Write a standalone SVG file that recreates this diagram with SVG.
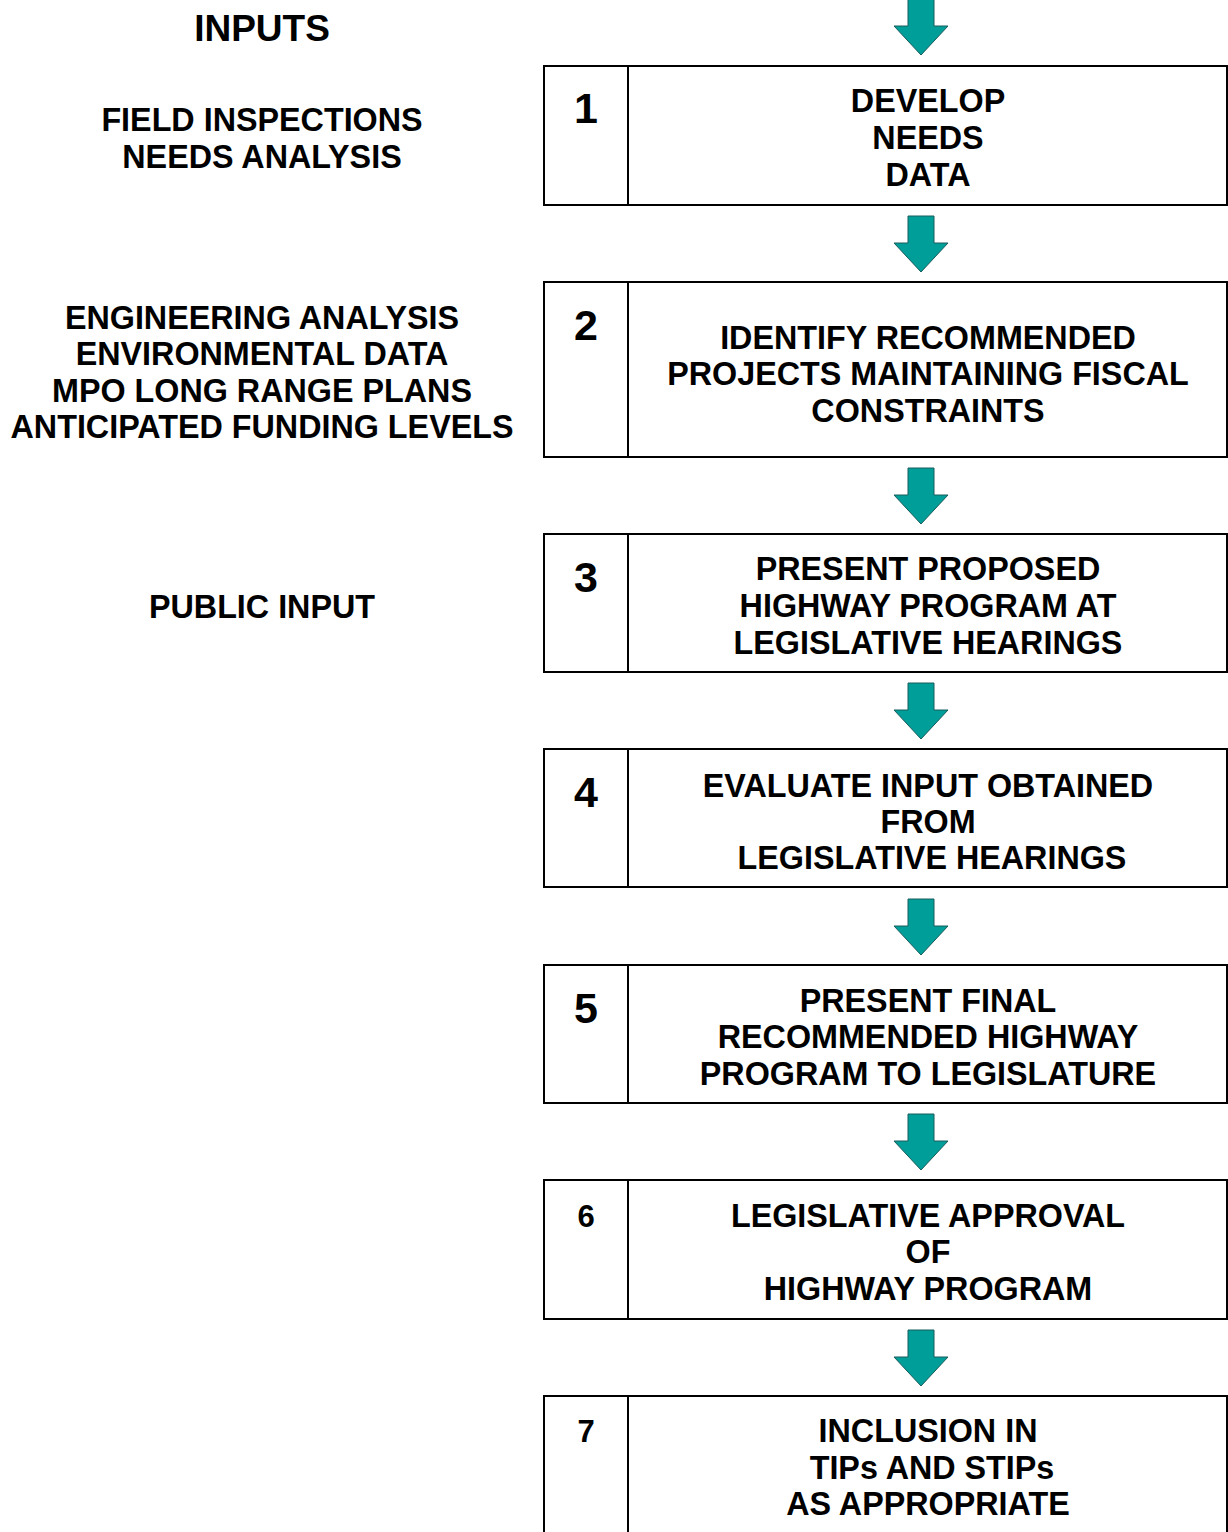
<svg xmlns="http://www.w3.org/2000/svg" width="1228" height="1532" viewBox="0 0 1228 1532">
<style>
text{font-family:"Liberation Sans",Arial,sans-serif;font-weight:bold;fill:#000;text-anchor:middle}
.t{font-size:32.3px}
.h{font-size:37px}
.n{font-size:43px}
.s{font-size:31px}
.box{fill:#fff;stroke:#000;stroke-width:2}
.div{stroke:#000;stroke-width:2}
.arr{fill:#009e99;stroke:#1a5c5c;stroke-width:1}
</style>
<defs>
<path id="ar" d="M-13,0 H13 V27 H27 L0,56 L-27,27 H-13 Z"/>
</defs>
<g id="inputs">
<text class="h" x="262" y="41">INPUTS</text>
<text class="t" x="262" y="131">FIELD INSPECTIONS</text>
<text class="t" x="262" y="168">NEEDS ANALYSIS</text>
<text class="t" x="262" y="329">ENGINEERING ANALYSIS</text>
<text class="t" x="262" y="365">ENVIRONMENTAL DATA</text>
<text class="t" x="262" y="402">MPO LONG RANGE PLANS</text>
<text class="t" x="262" y="438">ANTICIPATED FUNDING LEVELS</text>
<text class="t" x="262" y="618">PUBLIC INPUT</text>
</g>
<g id="connectors">
<use href="#ar" class="arr" transform="translate(921,-1)"/>
<use href="#ar" class="arr" transform="translate(921,216)"/>
<use href="#ar" class="arr" transform="translate(921,468)"/>
<use href="#ar" class="arr" transform="translate(921,683)"/>
<use href="#ar" class="arr" transform="translate(921,899)"/>
<use href="#ar" class="arr" transform="translate(921,1114)"/>
<use href="#ar" class="arr" transform="translate(921,1330)"/>
</g>
<g id="step1">
<rect class="box" x="544" y="66" width="683" height="139"/>
<line class="div" x1="628" y1="66" x2="628" y2="205"/>
<text class="n" x="586" y="123">1</text>
<text class="t" x="928" y="112">DEVELOP</text>
<text class="t" x="928" y="149">NEEDS</text>
<text class="t" x="928" y="186">DATA</text>
</g>
<g id="step2">
<rect class="box" x="544" y="282" width="683" height="175"/>
<line class="div" x1="628" y1="282" x2="628" y2="457"/>
<text class="n" x="586" y="340">2</text>
<text class="t" x="928" y="349">IDENTIFY RECOMMENDED</text>
<text class="t" x="928" y="385">PROJECTS MAINTAINING FISCAL</text>
<text class="t" x="928" y="422">CONSTRAINTS</text>
</g>
<g id="step3">
<rect class="box" x="544" y="534" width="683" height="138"/>
<line class="div" x1="628" y1="534" x2="628" y2="672"/>
<text class="n" x="586" y="592">3</text>
<text class="t" x="928" y="580">PRESENT PROPOSED</text>
<text class="t" x="928" y="617">HIGHWAY PROGRAM AT</text>
<text class="t" x="928" y="654">LEGISLATIVE HEARINGS</text>
</g>
<g id="step4">
<rect class="box" x="544" y="749" width="683" height="138"/>
<line class="div" x1="628" y1="749" x2="628" y2="887"/>
<text class="n" x="586" y="807">4</text>
<text class="t" x="928" y="797">EVALUATE INPUT OBTAINED</text>
<text class="t" x="928" y="833">FROM</text>
<text class="t" x="932" y="869">LEGISLATIVE HEARINGS</text>
</g>
<g id="step5">
<rect class="box" x="544" y="965" width="683" height="138"/>
<line class="div" x1="628" y1="965" x2="628" y2="1103"/>
<text class="n" x="586" y="1023">5</text>
<text class="t" x="928" y="1012">PRESENT FINAL</text>
<text class="t" x="928" y="1048">RECOMMENDED HIGHWAY</text>
<text class="t" x="928" y="1085">PROGRAM TO LEGISLATURE</text>
</g>
<g id="step6">
<rect class="box" x="544" y="1180" width="683" height="139"/>
<line class="div" x1="628" y1="1180" x2="628" y2="1319"/>
<text class="s" x="586" y="1227">6</text>
<text class="t" x="928" y="1227">LEGISLATIVE APPROVAL</text>
<text class="t" x="928" y="1263">OF</text>
<text class="t" x="928" y="1300">HIGHWAY PROGRAM</text>
</g>
<g id="step7">
<rect class="box" x="544" y="1396" width="683" height="160"/>
<line class="div" x1="628" y1="1396" x2="628" y2="1556"/>
<text class="s" x="586" y="1442">7</text>
<text class="t" x="928" y="1442">INCLUSION IN</text>
<text class="t" x="932" y="1479">TIPs AND STIPs</text>
<text class="t" x="928" y="1515">AS APPROPRIATE</text>
</g>
</svg>
